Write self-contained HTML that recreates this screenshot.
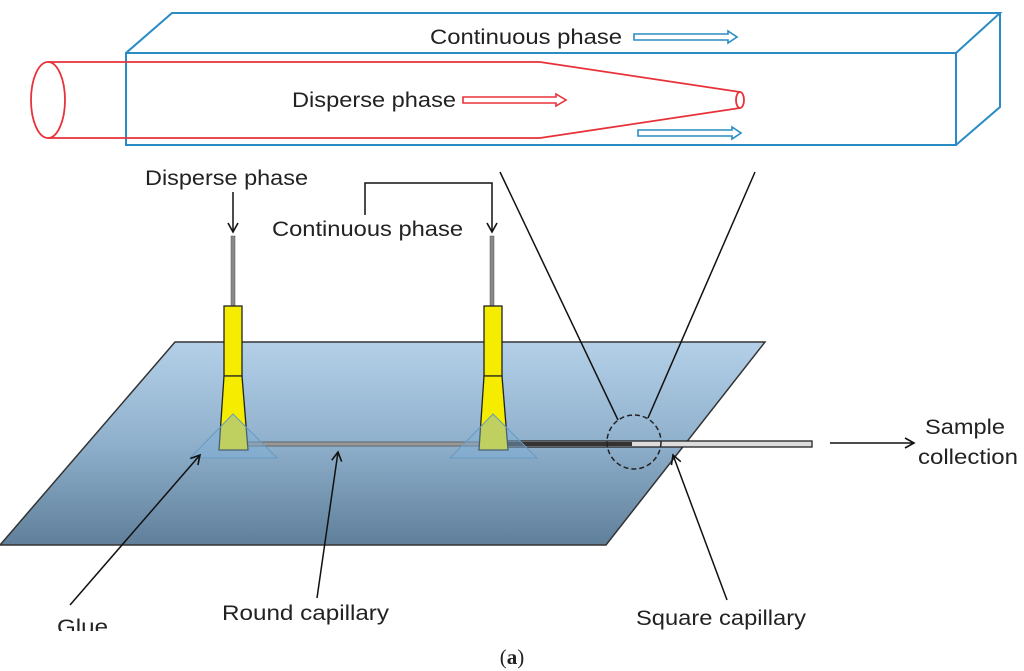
<!DOCTYPE html>
<html><head><meta charset="utf-8"><style>
html,body{margin:0;padding:0;background:#fff;}
svg{display:block;}
text{font-family:"Liberation Sans",Arial,sans-serif;fill:#222;}
</style></head><body>
<svg width="1024" height="671" viewBox="0 0 1024 671" xmlns="http://www.w3.org/2000/svg">
<defs>
<linearGradient id="pl" x1="0" y1="0" x2="0" y2="1">
<stop offset="0" stop-color="#b4d0e8"/><stop offset="0.5" stop-color="#8fb0cc"/><stop offset="1" stop-color="#5f7f9a"/>
</linearGradient>
<marker id="ah" markerWidth="12" markerHeight="12" refX="10" refY="6" orient="auto" markerUnits="userSpaceOnUse">
<path d="M1,1 L10,6 L1,11" fill="none" stroke="#111" stroke-width="1.6"/>
</marker>
</defs>
<g fill="none" stroke="#2a8cc4" stroke-width="2">
<rect x="126" y="53" width="830" height="92"/>
<path d="M126,53 L172,13 L1000,13 L956,53 M1000,13 L1000,107 L956,145"/>
</g>
<g fill="none" stroke="#e8323a" stroke-width="1.8">
<ellipse cx="48" cy="100" rx="17" ry="38"/>
<path d="M48,62 L540,62 L740,92 M48,138 L540,138 L740,108"/>
<ellipse cx="740" cy="100" rx="4" ry="8"/>
</g>
<text x="430" y="44" font-size="21" textLength="192" lengthAdjust="spacingAndGlyphs">Continuous phase</text>
<text x="292" y="107" font-size="21" textLength="164" lengthAdjust="spacingAndGlyphs">Disperse phase</text>
<path d="M634,34 L728,34 L728,31 L737,37 L728,43 L728,40 L634,40 Z" fill="#fff" stroke="#2a8cc4" stroke-width="1.6"/>
<path d="M638,130 L732,130 L732,127 L741,133 L732,139 L732,136 L638,136 Z" fill="#fff" stroke="#2a8cc4" stroke-width="1.6"/>
<path d="M463,97 L556,97 L556,94 L566,100 L556,106 L556,103 L463,103 Z" fill="#fff" stroke="#e8323a" stroke-width="1.6"/>
<polygon points="175,342 765,342 606,545 0,545" fill="url(#pl)" stroke="#333" stroke-width="1.5"/>
<line x1="500" y1="172" x2="618" y2="420" stroke="#111" stroke-width="1.5"/>
<line x1="755" y1="172" x2="648" y2="418" stroke="#111" stroke-width="1.5"/>
<text x="145" y="185" font-size="21" textLength="163" lengthAdjust="spacingAndGlyphs">Disperse phase</text>
<line x1="233" y1="192" x2="233" y2="232" stroke="#111" stroke-width="1.5" marker-end="url(#ah)"/>
<text x="272" y="236" font-size="21" textLength="191" lengthAdjust="spacingAndGlyphs">Continuous phase</text>
<path d="M365,215 L365,183 L492,183 L492,232" fill="none" stroke="#111" stroke-width="1.5" marker-end="url(#ah)"/>
<rect x="231" y="236" width="4" height="70" fill="#888" stroke="#555" stroke-width="0.5"/>
<rect x="490" y="236" width="4" height="70" fill="#888" stroke="#555" stroke-width="0.5"/>
<rect x="240" y="442" width="252" height="4" fill="#999" stroke="#555" stroke-width="0.8"/>
<rect x="500" y="441" width="312" height="6" fill="#ddd" stroke="#222" stroke-width="1.3"/>
<rect x="500" y="442" width="132" height="4" fill="#333"/>
<g stroke="#222" stroke-width="1.3" fill="#f5ec00">
<rect x="224" y="306" width="18" height="70"/>
<polygon points="224,376 242,376 248,450 219,450"/>
<rect x="484" y="306" width="18" height="70"/>
<polygon points="484,376 502,376 508,450 479,450"/>
</g>
<polygon points="233,414 190,458 277,458" fill="#7fb0d8" fill-opacity="0.45" stroke="#6a9ac0" stroke-width="1"/>
<polygon points="493,414 450,458 537,458" fill="#7fb0d8" fill-opacity="0.45" stroke="#6a9ac0" stroke-width="1"/>
<circle cx="634" cy="442" r="27" fill="none" stroke="#222" stroke-width="1.5" stroke-dasharray="5,3"/>
<line x1="830" y1="443" x2="914" y2="443" stroke="#111" stroke-width="1.5" marker-end="url(#ah)"/>
<text x="925" y="434" font-size="21" textLength="80" lengthAdjust="spacingAndGlyphs">Sample</text>
<text x="918" y="464" font-size="21" textLength="100" lengthAdjust="spacingAndGlyphs">collection</text>
<line x1="70" y1="605" x2="200" y2="455" stroke="#111" stroke-width="1.5" marker-end="url(#ah)"/>
<line x1="317" y1="598" x2="338" y2="452" stroke="#111" stroke-width="1.5" marker-end="url(#ah)"/>
<line x1="727" y1="600" x2="673" y2="455" stroke="#111" stroke-width="1.5" marker-end="url(#ah)"/>
<text x="222" y="620" font-size="21" textLength="167" lengthAdjust="spacingAndGlyphs">Round capillary</text>
<text x="636" y="625" font-size="21" textLength="170" lengthAdjust="spacingAndGlyphs">Square capillary</text>
<text x="57" y="634" font-size="21" textLength="51" lengthAdjust="spacingAndGlyphs">Glue</text>
<rect x="40" y="631" width="80" height="12" fill="#fff"/>
<text x="512" y="664" font-size="21" text-anchor="middle" style="font-family:'Liberation Serif',serif">(<tspan font-weight="bold">a</tspan>)</text>
</svg>
</body></html>
